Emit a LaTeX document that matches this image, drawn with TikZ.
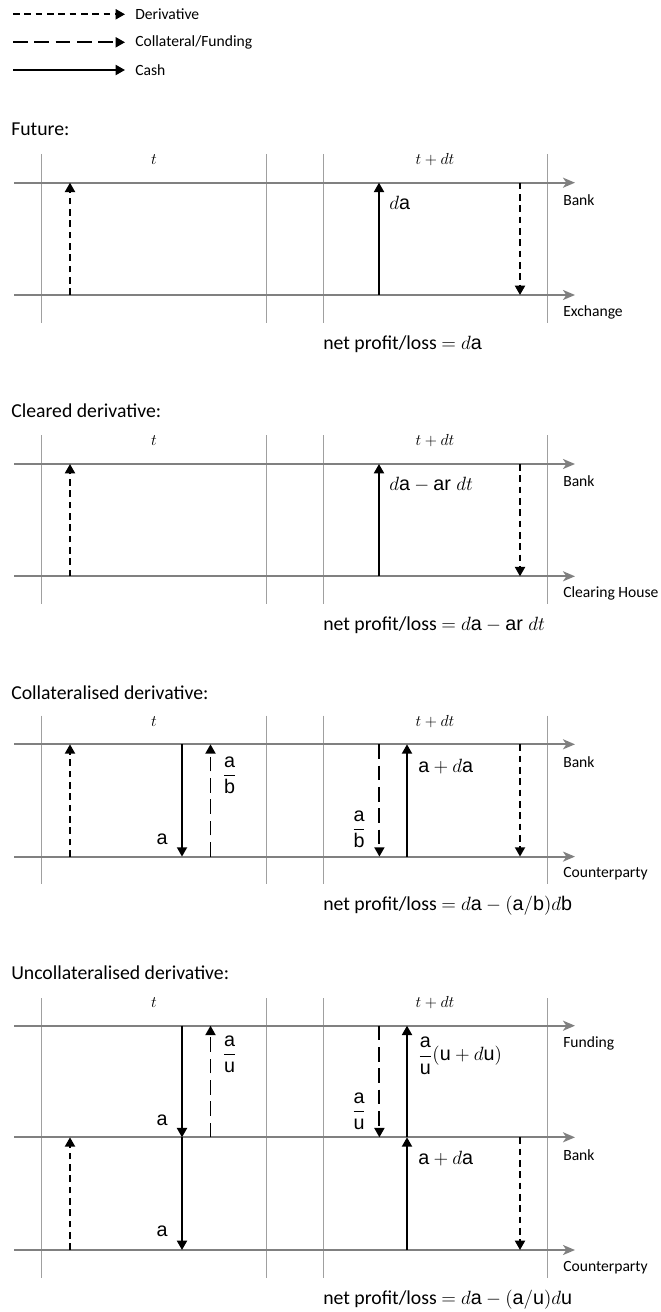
\documentclass[tikz,border=0pt]{standalone}
\usepackage{amsmath}
\usepackage{fontspec}
\setmainfont{Carlito}
\newfontfamily\arialfont{Liberation Sans}
\usetikzlibrary{arrows.meta}

\definecolor{linegray}{HTML}{808080}
\definecolor{gridgray}{HTML}{A0A0A0}

\newcommand{\sv}[1]{\mbox{\arialfont #1}}

\tikzset{
  timeline/.style={draw=linegray, line width=1.5pt, -{Stealth[length=9pt,width=7.5pt,inset=2.5pt]}},
  gridline/.style={draw=gridgray, line width=0.75pt},
  cash/.style={draw=black, line width=1.4pt, -{Triangle[length=7pt,width=7.5pt]}},
  deriv/.style={cash, dash pattern=on 5pt off 3.5pt},
  coll/.style={cash, dash pattern=on 11pt off 5pt},
  title/.style={anchor=west, inner sep=0pt, font=\fontsize{14.8}{17}\selectfont},
  period/.style={inner sep=0pt, font=\fontsize{12.5}{15}\selectfont},
  party/.style={anchor=west, inner sep=0pt, font=\fontsize{11.7}{14}\selectfont},
  amount/.style={inner sep=0pt, font=\fontsize{14.8}{17}\selectfont},
  result/.style={anchor=west, inner sep=0pt, font=\fontsize{14.8}{17}\selectfont}
}

\begin{document}
\begin{tikzpicture}[x=0.75pt, y=-0.75pt]
        \useasboundingbox (0,0) rectangle (660,1312);

        % legend
        \node[party] (legD) at (135,14.3){Derivative};
        \node[party] (legC) at (135,42.3){Collateral/Funding};
        \node[party] (legK) at (135,70){Cash};
        \draw[deriv] (legD.west) ++(-122,0) -- ++(112,0);
        \draw[coll] (legC.west) ++(-122,0) -- ++(112,0);
        \draw[cash] (legK.west) ++(-122,0) -- ++(112,0);

        % future
        \begin{scope}[shift={(0,182.7)}]
        \node[title] (futT) at (11,-53){Future:};
        \draw[gridline] (41.5,-28.7) -- (41.5,140) (266.5,-28.7) -- (266.5,140)
            (323,-28.7) -- (323,140) (547.5,-28.7) -- (547.5,140);
        \node[period] (futt0) at (154,-23){$t$};
        \node[period] (futt1) at (435,-23){$t+dt$};
        \draw[timeline] (14,0) coordinate (futBank) -- (575,0);
        \draw[timeline] (14,112.3) coordinate (futExch) -- (575,112.3);
        \node[party] (futBankL) at (563,17.5){Bank};
        \node[party] (futExchL) at (563,129.8){Exchange};
        \draw[deriv] (70,0 |- futExch) -- (70,0 |- futBank);
        \draw[cash] (379,0 |- futExch) -- (379,0 |- futBank);
        \draw[deriv] (520,0 |- futBank) -- (520,0 |- futExch);
        \node[amount, anchor=west] (futda) at (389,20){$d\sv{a}$};
        \node[result] (futR) at (323,161.5){net profit/loss $= d\sv{a}$};
        \end{scope}

        % cleared derivative
        \begin{scope}[shift={(0,464)}]
        \node[title] (clrT) at (11,-53){Cleared derivative:};
        \draw[gridline] (41.5,-28.7) -- (41.5,140) (266.5,-28.7) -- (266.5,140)
            (323,-28.7) -- (323,140) (547.5,-28.7) -- (547.5,140);
        \node[period] (clrt0) at (154,-23){$t$};
        \node[period] (clrt1) at (435,-23){$t+dt$};
        \draw[timeline] (14,0) coordinate (clrBank) -- (575,0);
        \draw[timeline] (14,112.3) coordinate (clrHouse) -- (575,112.3);
        \node[party] (clrBankL) at (563,17.5){Bank};
        \node[party] (clrHouseL) at (563,129.8){Clearing House};
        \draw[deriv] (70,0 |- clrHouse) -- (70,0 |- clrBank);
        \draw[cash] (379,0 |- clrHouse) -- (379,0 |- clrBank);
        \draw[deriv] (520,0 |- clrBank) -- (520,0 |- clrHouse);
        \node[amount, anchor=west] (clrda) at (389,21){$d\sv{a} - \sv{ar}\;dt$};
        \node[result] (clrR) at (323,161.5){net profit/loss $= d\sv{a} - \sv{ar}\;dt$};
        \end{scope}

        % collateralised derivative
        \begin{scope}[shift={(0,744.3)}]
        \node[title] (colT) at (11,-52){Collateralised derivative:};
        \draw[gridline] (41.5,-28.7) -- (41.5,140) (266.5,-28.7) -- (266.5,140)
            (323,-28.7) -- (323,140) (547.5,-28.7) -- (547.5,140);
        \node[period] (colt0) at (154,-23){$t$};
        \node[period] (colt1) at (435,-23){$t+dt$};
        \draw[timeline] (14,0) coordinate (colBank) -- (575,0);
        \draw[timeline] (14,112.3) coordinate (colCpty) -- (575,112.3);
        \node[party] (colBankL) at (563,17.5){Bank};
        \node[party] (colCptyL) at (563,129.8){Counterparty};
        \draw[deriv] (70,0 |- colCpty) -- (70,0 |- colBank);
        \draw[cash] (182,0 |- colBank) -- (182,0 |- colCpty);
        \draw[coll] (210.5,0 |- colCpty) -- (210.5,0 |- colBank);
        \draw[coll] (379.4,0 |- colBank) -- (379.4,0 |- colCpty);
        \draw[cash] (407,0 |- colCpty) -- (407,0 |- colBank);
        \draw[deriv] (520,0 |- colBank) -- (520,0 |- colCpty);
        \node[amount] (cola0) at (162,95){\sv{a}};
        \node[amount] (colab0) at (229.5,31){$\dfrac{\sv{a}}{\sv{b}}$};
        \node[amount] (colab1) at (359,85){$\dfrac{\sv{a}}{\sv{b}}$};
        \node[amount, anchor=west] (colda) at (418,22){$\sv{a} + d\sv{a}$};
        \node[result] (colR) at (323,161.5){net profit/loss $= d\sv{a} - (\sv{a}/\sv{b})d\sv{b}$};
        \end{scope}

        % uncollateralised derivative
        \begin{scope}[shift={(0,1025.7)}]
        \node[title] (uncT) at (11,-52.5){Uncollateralised derivative:};
        \draw[gridline] (41.5,-27.7) -- (41.5,252) (266.5,-27.7) -- (266.5,252)
            (323,-27.7) -- (323,252) (547.5,-27.7) -- (547.5,252);
        \node[period] (unct0) at (154,-23){$t$};
        \node[period] (unct1) at (435,-23){$t+dt$};
        \draw[timeline] (14,0) coordinate (uncFund) -- (575,0);
        \draw[timeline] (14,111.6) coordinate (uncBank) -- (575,111.6);
        \draw[timeline] (14,224.3) coordinate (uncCpty) -- (575,224.3);
        \node[party] (uncFundL) at (563,17.5){Funding};
        \node[party] (uncBankL) at (563,129.1){Bank};
        \node[party] (uncCptyL) at (563,241.8){Counterparty};
        \draw[deriv] (70,0 |- uncCpty) -- (70,0 |- uncBank);
        \draw[cash] (182,0 |- uncFund) -- (182,0 |- uncBank);
        \draw[cash] (182,0 |- uncBank) -- (182,0 |- uncCpty);
        \draw[coll] (210.5,0 |- uncBank) -- (210.5,0 |- uncFund);
        \draw[coll] (379.4,0 |- uncFund) -- (379.4,0 |- uncBank);
        \draw[cash] (407,0 |- uncBank) -- (407,0 |- uncFund);
        \draw[cash] (407,0 |- uncCpty) -- (407,0 |- uncBank);
        \draw[deriv] (520,0 |- uncBank) -- (520,0 |- uncCpty);
        \node[amount] (unca0) at (162,94.5){\sv{a}};
        \node[amount] (unca1) at (162,206){\sv{a}};
        \node[amount] (uncau0) at (229.5,28.5){$\dfrac{\sv{a}}{\sv{u}}$};
        \node[amount] (uncau1) at (359,85.5){$\dfrac{\sv{a}}{\sv{u}}$};
        \node[amount, anchor=west] (uncdu) at (418,30){$\dfrac{\sv{a}}{\sv{u}}(\sv{u} + d\sv{u})$};
        \node[amount, anchor=west] (uncda) at (418,132.5){$\sv{a} + d\sv{a}$};
        \node[result] (uncR) at (323,273.5){net profit/loss $= d\sv{a} - (\sv{a}/\sv{u})d\sv{u}$};
        \end{scope}
    \end{tikzpicture}
\end{document}
